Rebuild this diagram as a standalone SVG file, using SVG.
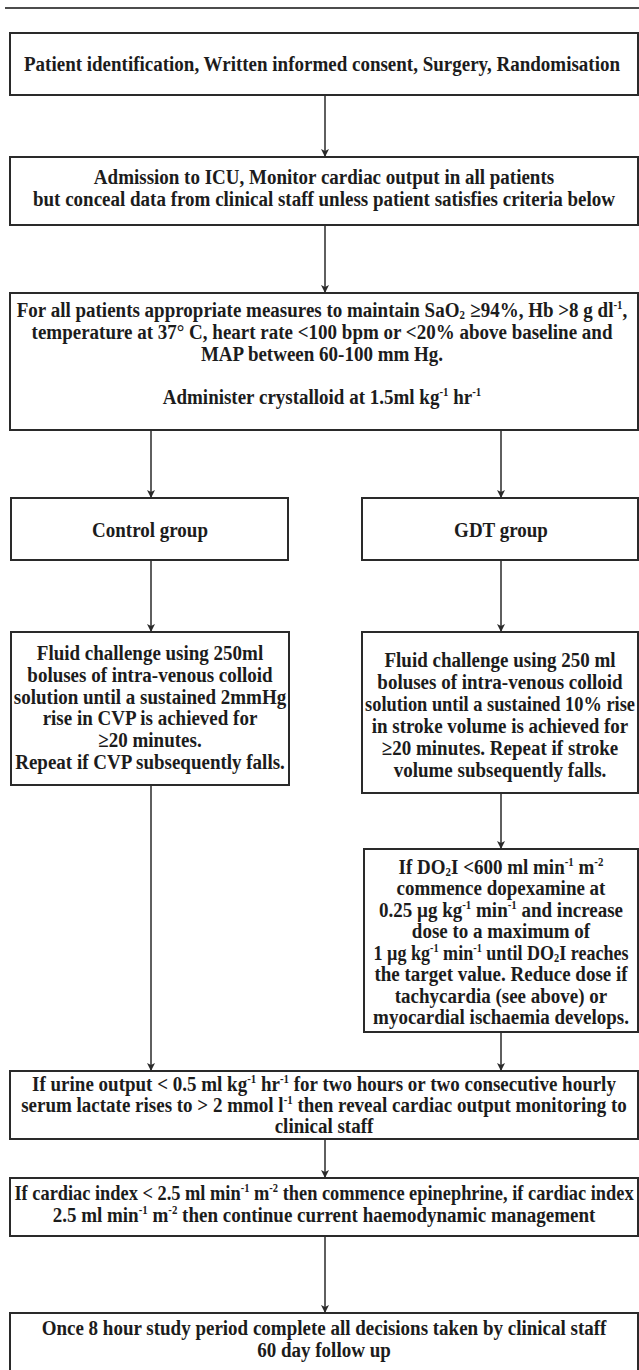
<svg xmlns="http://www.w3.org/2000/svg" width="639" height="1370" viewBox="0 0 639 1370">
<style>
.box{fill:#fff;stroke:#2a2a2a;stroke-width:2}
.t{font-family:"Liberation Serif","Times New Roman",serif;font-weight:bold;font-size:21px;text-anchor:middle;fill:#1c1c1c}
.s{font-size:12px}
.c{stroke:#2a2a2a;stroke-width:1.5;fill:none}
</style>
<defs>
<marker id="ah" viewBox="0 0 10 10" refX="10" refY="5" markerWidth="10" markerHeight="8" markerUnits="userSpaceOnUse" orient="auto">
<path d="M0,0 L10,5 L0,10 L2.5,5 z" fill="#2a2a2a"/>
</marker>
</defs>
<rect width="639" height="1370" fill="#fff"/>
<line x1="5" y1="8" x2="639" y2="8" stroke="#111" stroke-width="1.5"/>
<g id="connectors">
<line class="c" x1="325" y1="95" x2="325" y2="157" marker-end="url(#ah)"/>
<line class="c" x1="325" y1="225" x2="325" y2="293" marker-end="url(#ah)"/>
<line class="c" x1="151" y1="430" x2="151" y2="498" marker-end="url(#ah)"/>
<line class="c" x1="501" y1="430" x2="501" y2="498" marker-end="url(#ah)"/>
<line class="c" x1="151" y1="560" x2="151" y2="632" marker-end="url(#ah)"/>
<line class="c" x1="501" y1="560" x2="501" y2="632" marker-end="url(#ah)"/>
<line class="c" x1="501" y1="793" x2="501" y2="849" marker-end="url(#ah)"/>
<line class="c" x1="151" y1="785" x2="151" y2="1071" marker-end="url(#ah)"/>
<line class="c" x1="501" y1="1032" x2="501" y2="1071" marker-end="url(#ah)"/>
<line class="c" x1="325" y1="1139" x2="325" y2="1178" marker-end="url(#ah)"/>
<line class="c" x1="325" y1="1236" x2="325" y2="1313" marker-end="url(#ah)"/>
</g>
<g id="n1">
<rect class="box" x="10" y="33" width="628" height="62"/>
<g transform="translate(322 0) scale(0.905 1)">
<text class="t" x="0" y="71">Patient identification, Written informed consent, Surgery, Randomisation</text>
</g>
</g>
<g id="n2">
<rect class="box" x="10" y="157" width="628" height="68"/>
<g transform="translate(324 0) scale(0.905 1)">
<text class="t" x="0" y="184">Admission to ICU, Monitor cardiac output in all patients</text>
<text class="t" x="0" y="206">but conceal data from clinical staff unless patient satisfies criteria below</text>
</g>
</g>
<g id="n3">
<rect class="box" x="10" y="293" width="628" height="137"/>
<g transform="translate(322 0) scale(0.905 1)">
<text class="t" x="0" y="317">For all patients appropriate measures to maintain SaO<tspan class="s" dy="2.5">2</tspan><tspan dy="-2.5" dx="6">≥94%, Hb &gt;8 g dl</tspan><tspan class="s" dy="-8">-1</tspan><tspan dy="8">,</tspan></text>
<text class="t" x="0" y="339">temperature at 37° C, heart rate &lt;100 bpm or &lt;20% above baseline and</text>
<text class="t" x="0" y="361">MAP between 60-100 mm Hg.</text>
<text class="t" x="0" y="404">Administer crystalloid at 1.5ml kg<tspan class="s" dy="-8">-1</tspan><tspan dy="8"> hr</tspan><tspan class="s" dy="-8">-1</tspan></text>
</g>
</g>
<g id="n4">
<rect class="box" x="11" y="498" width="277" height="62"/>
<g transform="translate(150 0) scale(0.905 1)">
<text class="t" x="0" y="537">Control group</text>
</g>
</g>
<g id="n5">
<rect class="box" x="362" y="498" width="276" height="62"/>
<g transform="translate(501 0) scale(0.905 1)">
<text class="t" x="0" y="537">GDT group</text>
</g>
</g>
<g id="n6">
<rect class="box" x="11" y="632" width="278" height="153"/>
<g transform="translate(150 0) scale(0.905 1)">
<text class="t" x="0" y="660">Fluid challenge using 250ml</text>
<text class="t" x="0" y="682">boluses of intra-venous colloid</text>
<text class="t" x="0" y="704">solution until a sustained 2mmHg</text>
<text class="t" x="0" y="725">rise in CVP is achieved for</text>
<text class="t" x="0" y="747">≥20 minutes.</text>
<text class="t" x="0" y="769">Repeat if CVP subsequently falls.</text>
</g>
</g>
<g id="n7">
<rect class="box" x="362" y="632" width="276" height="161"/>
<g transform="translate(500 0) scale(0.905 1)">
<text class="t" x="0" y="667">Fluid challenge using 250 ml</text>
<text class="t" x="0" y="689">boluses of intra-venous colloid</text>
<text class="t" x="0" y="733">in stroke volume is achieved for</text>
<text class="t" x="0" y="755">≥20 minutes. Repeat if stroke</text>
<text class="t" x="0" y="777">volume subsequently falls.</text>
</g>
<g transform="translate(500 0) scale(0.875 1)">
<text class="t" x="0" y="711">solution until a sustained 10% rise</text>
</g>
</g>
<g id="n8">
<rect class="box" x="364" y="849" width="274" height="183"/>
<g transform="translate(501 0) scale(0.905 1)">
<text class="t" x="0" y="874">If DO<tspan class="s" dy="2.5">2</tspan><tspan dy="-2.5">I &lt;600 ml min</tspan><tspan class="s" dy="-8">-1</tspan><tspan dy="8"> m</tspan><tspan class="s" dy="-8">-2</tspan></text>
<text class="t" x="0" y="895.5">commence dopexamine at</text>
<text class="t" x="0" y="917">0.25 µg kg<tspan class="s" dy="-8">-1</tspan><tspan dy="8"> min</tspan><tspan class="s" dy="-8">-1</tspan><tspan dy="8"> and increase</tspan></text>
<text class="t" x="0" y="938.5">dose to a maximum of</text>
<text class="t" x="0" y="981.5">the target value. Reduce dose if</text>
<text class="t" x="0" y="1003">tachycardia (see above) or</text>
<text class="t" x="0" y="1024.5">myocardial ischaemia develops.</text>
</g>
<g transform="translate(501 0) scale(0.86 1)">
<text class="t" x="0" y="960">1 µg kg<tspan class="s" dy="-8">-1</tspan><tspan dy="8"> min</tspan><tspan class="s" dy="-8">-1</tspan><tspan dy="8"> until DO</tspan><tspan class="s" dy="2.5">2</tspan><tspan dy="-2.5">I reaches</tspan></text>
</g>
</g>
<g id="n9">
<rect class="box" x="10" y="1071" width="628" height="68"/>
<g transform="translate(324 0) scale(0.905 1)">
<text class="t" x="0" y="1091">If urine output &lt; 0.5 ml kg<tspan class="s" dy="-8">-1</tspan><tspan dy="8"> hr</tspan><tspan class="s" dy="-8">-1</tspan><tspan dy="8"> for two hours or two consecutive hourly</tspan></text>
<text class="t" x="0" y="1112">serum lactate rises to &gt; 2 mmol l<tspan class="s" dy="-8">-1</tspan><tspan dy="8"> then reveal cardiac output monitoring to</tspan></text>
<text class="t" x="0" y="1133">clinical staff</text>
</g>
</g>
<g id="n10">
<rect class="box" x="10" y="1178" width="628" height="58"/>
<g transform="translate(324 0) scale(0.875 1)">
<text class="t" x="0" y="1200">If cardiac index &lt; 2.5 ml min<tspan class="s" dy="-8">-1</tspan><tspan dy="8"> m</tspan><tspan class="s" dy="-8">-2</tspan><tspan dy="8"> then commence epinephrine, if cardiac index</tspan></text>
</g>
<g transform="translate(324 0) scale(0.905 1)">
<text class="t" x="0" y="1222">2.5 ml min<tspan class="s" dy="-8">-1</tspan><tspan dy="8"> m</tspan><tspan class="s" dy="-8">-2</tspan><tspan dy="8"> then continue current haemodynamic management</tspan></text>
</g>
</g>
<g id="n11">
<rect class="box" x="10" y="1313" width="628" height="80"/>
<g transform="translate(324 0) scale(0.905 1)">
<text class="t" x="0" y="1335">Once 8 hour study period complete all decisions taken by clinical staff</text>
<text class="t" x="0" y="1357">60 day follow up</text>
</g>
</g>
</svg>
